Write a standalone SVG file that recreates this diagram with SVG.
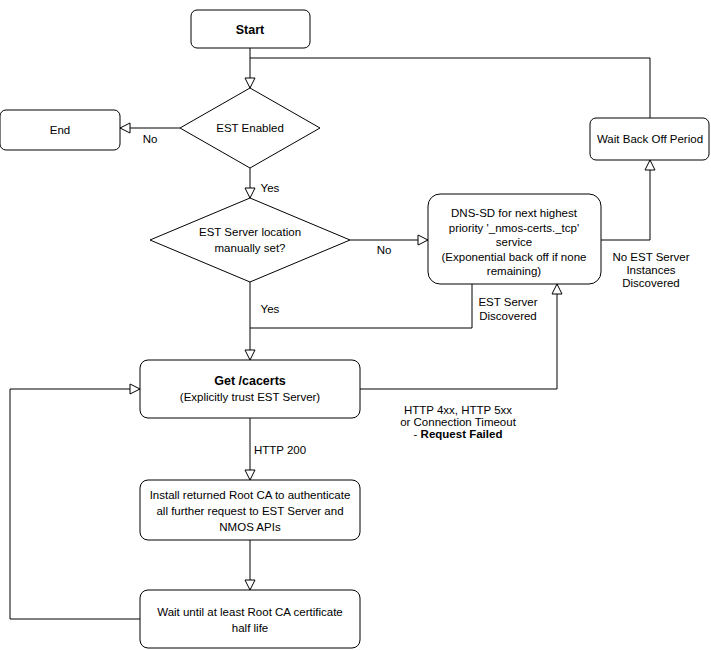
<svg xmlns="http://www.w3.org/2000/svg" width="711" height="650" viewBox="0 0 711 650">
<defs>
<marker id="a" viewBox="0 0 12 12" refX="11" refY="6" markerWidth="12" markerHeight="12" markerUnits="userSpaceOnUse" orient="auto"><path d="M1,1 L11,6 L1,11 Z" fill="#fff" stroke="#000" stroke-width="1"/></marker>
</defs>
<style>
.n{fill:#fff;stroke:#000;stroke-width:1}
.t{font-family:"Liberation Sans",Arial,sans-serif;font-size:11.5px;text-anchor:middle;fill:#000}
.b{font-weight:bold;font-size:12.5px}
.c{fill:none;stroke:#000;stroke-width:1}
</style>
<rect width="711" height="650" fill="#fff"/>
<g id="connectors">
<path class="c" d="M250,48 V88" marker-end="url(#a)"/>
<path class="c" d="M650,118 V58 H250"/>
<path class="c" d="M180,128 H120" marker-end="url(#a)"/>
<path class="c" d="M250,168 V198" marker-end="url(#a)"/>
<path class="c" d="M350,240 H428" marker-end="url(#a)"/>
<path class="c" d="M601,240 H650 V160" marker-end="url(#a)"/>
<path class="c" d="M472,284 V328 H250"/>
<path class="c" d="M250,282 V360" marker-end="url(#a)"/>
<path class="c" d="M360,389 H557 V284" marker-end="url(#a)"/>
<path class="c" d="M250,418 V480" marker-end="url(#a)"/>
<path class="c" d="M250,540 V590" marker-end="url(#a)"/>
<path class="c" d="M140,619 H10 V389 H140" marker-end="url(#a)"/>
<text class="t" x="150" y="143">No</text>
<text class="t" x="270" y="192">Yes</text>
<text class="t" x="384" y="254">No</text>
<text class="t" x="270" y="313">Yes</text>
<text class="t" x="651" y="261">No EST Server</text>
<text class="t" x="651" y="274">Instances</text>
<text class="t" x="651" y="287">Discovered</text>
<text class="t" x="508" y="306">EST Server</text>
<text class="t" x="508" y="320">Discovered</text>
<text class="t" x="458" y="414">HTTP 4xx, HTTP 5xx</text>
<text class="t" x="458" y="426">or Connection Timeout</text>
<text class="t" x="458" y="438"><tspan>- </tspan><tspan font-weight="bold">Request Failed</tspan></text>
<text class="t" x="280" y="454">HTTP 200</text>
</g>
<g id="start"><rect class="n" x="191" y="10" width="119" height="38" rx="6"/><text class="t b" x="250" y="34">Start</text></g>
<g id="est-enabled"><path class="n" d="M250,88 L320,128 L250,168 L180,128 Z"/><text class="t" x="250" y="132">EST Enabled</text></g>
<g id="end"><rect class="n" x="0" y="110" width="120" height="40" rx="6"/><text class="t" x="60" y="134">End</text></g>
<g id="manual"><path class="n" d="M250,198 L350,240 L250,282 L150,240 Z"/><text class="t" x="250" y="236">EST Server location</text><text class="t" x="250" y="252">manually set?</text></g>
<g id="dnssd"><rect class="n" x="428" y="194" width="173" height="90" rx="12"/>
<text class="t" x="514" y="217">DNS-SD for next highest</text>
<text class="t" x="514" y="232">priority '_nmos-certs._tcp'</text>
<text class="t" x="514" y="246">service</text>
<text class="t" x="514" y="261">(Exponential back off if none</text>
<text class="t" x="514" y="275">remaining)</text></g>
<g id="wait-backoff"><rect class="n" x="590" y="118" width="119" height="42" rx="6"/><text class="t" x="650" y="143">Wait Back Off Period</text></g>
<g id="cacerts"><rect class="n" x="140" y="360" width="220" height="58" rx="8"/><text class="t b" x="250" y="385">Get /cacerts</text><text class="t" x="250" y="401">(Explicitly trust EST Server)</text></g>
<g id="install"><rect class="n" x="140" y="480" width="220" height="60" rx="8"/>
<text class="t" x="250" y="499">Install returned Root CA to authenticate</text>
<text class="t" x="250" y="515">all further request to EST Server and</text>
<text class="t" x="250" y="531">NMOS APIs</text></g>
<g id="wait-half"><rect class="n" x="140" y="590" width="220" height="58" rx="8"/><text class="t" x="250" y="616">Wait until at least Root CA certificate</text><text class="t" x="250" y="632">half life</text></g>
</svg>
